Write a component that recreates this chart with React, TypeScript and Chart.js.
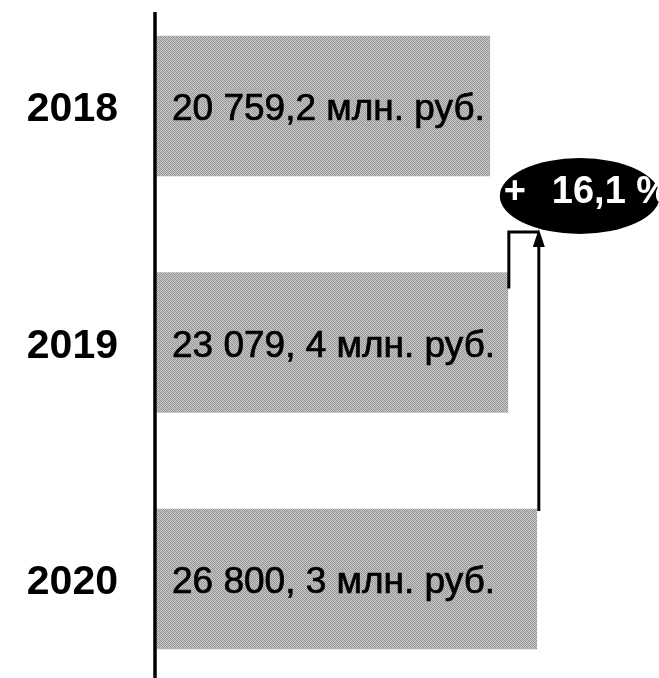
import React, { useEffect, useRef } from "react";
import { Chart, registerables } from "chart.js";

Chart.register(...registerables);

const years = ["2018", "2019", "2020"];
const values = [20759.2, 23079.4, 26800.3];
const valueLabels = ["20 759,2 млн. руб.", "23 079, 4 млн. руб.", "26 800, 3 млн. руб."];
const growthSign = "+";
const growthLabel = "16,1 %";
const X_MIN = -22000;
const X_MAX = 42500;

const FONT = "'Liberation Sans', Arial, Helvetica, sans-serif";

function makePattern(ctx: CanvasRenderingContext2D) {
  const c = document.createElement("canvas");
  c.width = 4;
  c.height = 4;
  const g = c.getContext("2d")!;
  const shades = [
    ["#969696", "#c9c9c9", "#a0a0a0", "#c2c2c2"],
    ["#bebebe", "#8f8f8f", "#cecece", "#9a9a9a"],
    ["#a4a4a4", "#c4c4c4", "#929292", "#cacaca"],
    ["#cccccc", "#9c9c9c", "#c0c0c0", "#949494"],
  ];
  for (let y = 0; y < 4; y++) {
    for (let x = 0; x < 4; x++) {
      g.fillStyle = shades[y][x];
      g.fillRect(x, y, 1, 1);
    }
  }
  return ctx.createPattern(c, "repeat")!;
}

const overlayPlugin = {
  id: "overlay",
  afterDatasetsDraw(chart: any) {
    const ctx: CanvasRenderingContext2D = chart.ctx;
    const bars = chart.getDatasetMeta(0).data;
    const area = chart.chartArea;
    ctx.save();

    // vertical axis line
    ctx.strokeStyle = "#000";
    ctx.lineWidth = 3.5;
    ctx.beginPath();
    ctx.moveTo(area.left - 2, 12);
    ctx.lineTo(area.left - 2, chart.height);
    ctx.stroke();

    // value labels inside bars
    ctx.font = `37px ${FONT}`;
    ctx.fillStyle = "#000";
    ctx.strokeStyle = "#000";
    ctx.lineWidth = 0.7;
    ctx.textAlign = "left";
    ctx.textBaseline = "middle";
    const props = bars.map((b: any) => b.getProps(["x", "y", "base", "height"], true));
    props.forEach((p: any, i: number) => {
      ctx.fillText(valueLabels[i], p.base + 15, p.y + 4);
      ctx.strokeText(valueLabels[i], p.base + 15, p.y + 4);
    });

    const b19 = props[1];
    const b20 = props[2];
    const tipY = 232;
    const arrowX = b20.x + 2;

    // ellipse
    const cx = b20.x + 43;
    const cy = 196;
    ctx.fillStyle = "#000";
    ctx.beginPath();
    ctx.ellipse(cx, cy, 80, 38, 0, 0, Math.PI * 2);
    ctx.fill();

    ctx.fillStyle = "#fff";
    ctx.font = `bold 38px ${FONT}`;
    ctx.textAlign = "center";
    ctx.fillText(growthSign, b20.x - 22, cy - 3);
    ctx.textAlign = "left";
    ctx.fillText(growthLabel, b20.x + 15, cy - 3);

    // connector from 2019 bar
    ctx.fillStyle = "#000";
    ctx.strokeStyle = "#000";
    ctx.lineWidth = 3;
    ctx.beginPath();
    ctx.moveTo(b19.x + 1, b19.y - b19.height / 2 + 16);
    ctx.lineTo(b19.x + 1, tipY);
    ctx.lineTo(arrowX, tipY);
    ctx.stroke();

    // arrow from 2020 bar
    ctx.beginPath();
    ctx.moveTo(arrowX, b20.y - b20.height / 2 + 2);
    ctx.lineTo(arrowX, tipY + 10);
    ctx.stroke();
    ctx.beginPath();
    ctx.moveTo(arrowX, tipY - 3);
    ctx.lineTo(arrowX - 6, tipY + 15);
    ctx.lineTo(arrowX + 6, tipY + 15);
    ctx.closePath();
    ctx.fill();

    ctx.restore();
  },
};

export default function App() {
  const ref = useRef<HTMLCanvasElement>(null);

  useEffect(() => {
    const canvas = ref.current!;
    const ctx = canvas.getContext("2d")!;
    const pattern = makePattern(ctx);
    const chart = new Chart(canvas, {
      type: "bar",
      data: {
        labels: years,
        datasets: [
          {
            data: values,
            backgroundColor: pattern as any,
            borderWidth: 0,
            barThickness: 140,
            base: X_MIN,
            clip: false as any,
          } as any,
        ],
      },
      options: {
        indexAxis: "y",
        animation: false,
        responsive: false,
        maintainAspectRatio: false,
        layout: { padding: { top: 106, bottom: 99, left: 0, right: 0 } },
        plugins: {
          legend: { display: false },
          tooltip: { enabled: false },
        },
        scales: {
          x: { display: false, min: X_MIN, max: X_MAX },
          y: {
            offset: false,
            grid: { display: false },
            border: { display: false },
            ticks: {
              padding: 31,
              labelOffset: 4,
              color: "#000",
              font: { family: FONT, size: 41, weight: "bold" },
            },
            afterFit: (s: any) => {
              s.width = 157;
            },
          },
        },
      },
      plugins: [overlayPlugin],
    });
    return () => chart.destroy();
  }, []);

  return (
    <div style={{ position: "absolute", left: 0, top: 0, width: 659, height: 678, background: "#fff" }}>
      <canvas ref={ref} width={659} height={678} style={{ display: "block" }} />
    </div>
  );
}
